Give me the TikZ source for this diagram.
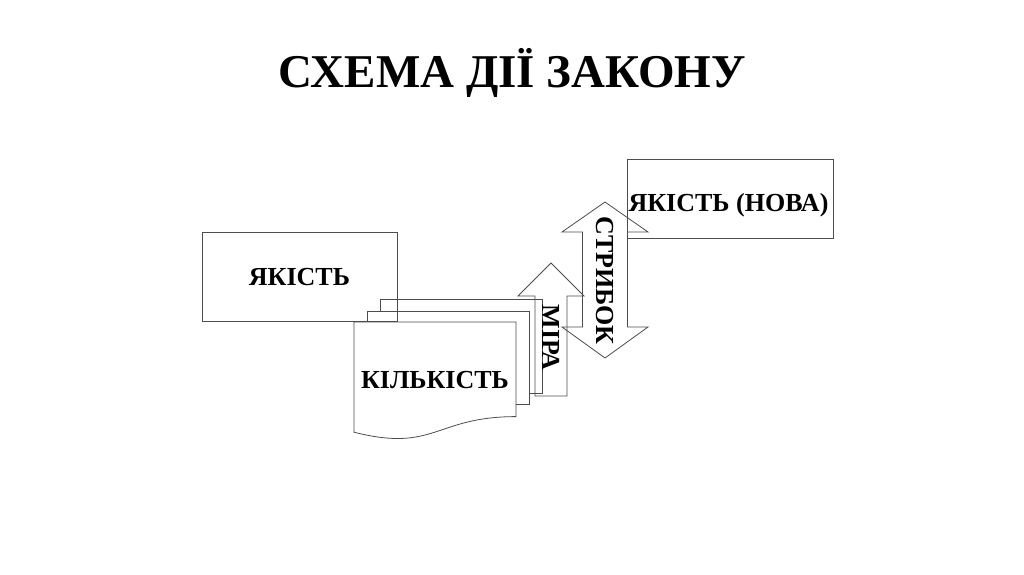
\documentclass[tikz,border=0pt]{standalone}
\usepackage{fontspec}
\setmainfont{Liberation Serif}
\tikzset{
  outline/.style={draw=black!70, line width=0.8pt},
  lbl/.style={font=\fontsize{26}{29}\selectfont\bfseries, inner sep=0pt},
}
\begin{document}
\begin{tikzpicture}[x=1pt, y=-1pt]
\useasboundingbox (0,0) rectangle (1024,574);
% Title
\node[font=\fontsize{47}{50}\selectfont\bfseries, anchor=base, inner sep=0pt] (title) at (512,87) {СХЕМА ДІЇ ЗАКОНУ};
% Quality boxes
\node[outline, minimum width=195pt, minimum height=89pt] (quality) at (299.5,276.5) {};
\node[lbl, anchor=base] (qualitytext) at (299.5,285) {ЯКІСТЬ};
\node[outline, minimum width=206pt, minimum height=79pt] (newquality) at (730,198.5) {};
\node[lbl, anchor=base] (newqualitytext) at (728.5,211) {ЯКІСТЬ (НОВА)};
% Quantity (stack of pages)
\draw[outline] (380,311) -- (380,299) -- (542,299) -- (542,393) -- (529,393);
\draw[outline] (367,322) -- (367,311) -- (529,311) -- (529,404) -- (516,404);
\draw[outline] (354,322) -- (516,322) -- (516,416.6)
  .. controls (435,416.6) and (435,452.7) .. (354,432.2) -- cycle;
\node[lbl, anchor=base] (quantity) at (435,388) {КІЛЬКІСТЬ};
% Measure arrow
\draw[outline] (535,396) -- (535,296) -- (518,296) -- (551,263) -- (584,296)
  -- (567,296) -- (567,396) -- cycle;
\node[lbl, rotate=-90] (measure) at (551,337.5) {МІРА};
% Jump arrow
\draw[outline] (582.5,232) -- (562,232) -- (605,202) -- (648,232) -- (627.5,232)
  -- (627.5,327) -- (648,327) -- (605,358) -- (562,327) -- (582.5,327) -- cycle;
\node[lbl, rotate=-90] (jump) at (605,280.5) {СТРИБОК};
\end{tikzpicture}
\end{document}
